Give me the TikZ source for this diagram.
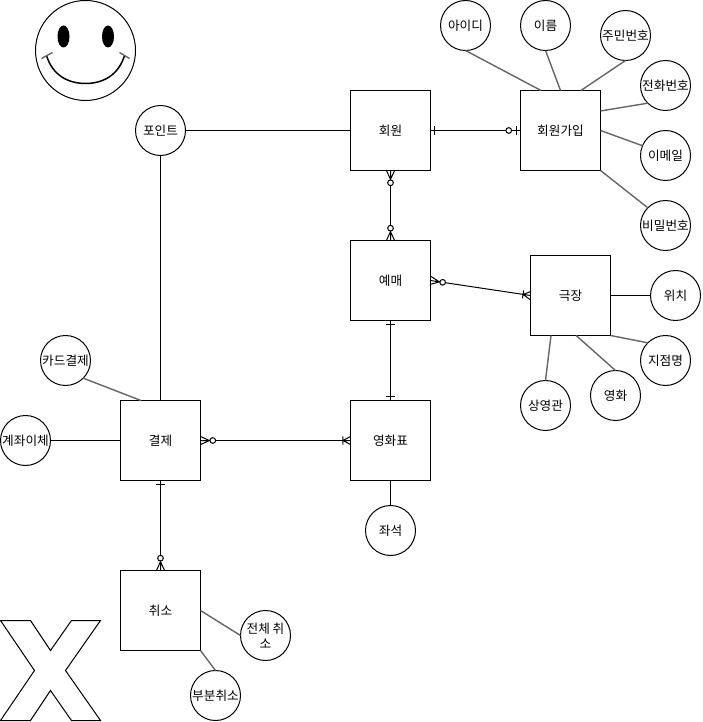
\documentclass[tikz,border=0pt]{standalone}
\usepackage{fontspec}
\setmainfont{Noto Sans CJK KR}
\usetikzlibrary{arrows.meta}

\pgfdeclarearrow{name=ermany,
	setup code={\pgfarrowssettipend{0pt}\pgfarrowssetbackend{-5.1pt}\pgfarrowssetlineend{-5.1pt}},
	drawing code={
		\pgfpathmoveto{\pgfqpoint{0pt}{2.3pt}}\pgfpathlineto{\pgfqpoint{-5.1pt}{0pt}}\pgfpathlineto{\pgfqpoint{0pt}{-2.3pt}}
		\pgfpathmoveto{\pgfqpoint{0pt}{0pt}}\pgfpathlineto{\pgfqpoint{-5.1pt}{0pt}}
		\pgfusepathqstroke}}
\pgfdeclarearrow{name=eronemany,
	setup code={\pgfarrowssettipend{0pt}\pgfarrowssetbackend{-4.3pt}\pgfarrowssetlineend{-4.3pt}},
	drawing code={
		\pgfpathmoveto{\pgfqpoint{0pt}{2.3pt}}\pgfpathlineto{\pgfqpoint{-4.3pt}{0pt}}\pgfpathlineto{\pgfqpoint{0pt}{-2.3pt}}
		\pgfpathmoveto{\pgfqpoint{0pt}{0pt}}\pgfpathlineto{\pgfqpoint{-4.3pt}{0pt}}
		\pgfpathmoveto{\pgfqpoint{-4.3pt}{2.3pt}}\pgfpathlineto{\pgfqpoint{-4.3pt}{-2.3pt}}
		\pgfusepathqstroke}}
\pgfdeclarearrow{name=erone,
	setup code={\pgfarrowssettipend{0pt}\pgfarrowssetbackend{-4.8pt}\pgfarrowssetlineend{-4.8pt}},
	drawing code={
		\pgfpathmoveto{\pgfqpoint{0pt}{0pt}}\pgfpathlineto{\pgfqpoint{-4.8pt}{0pt}}
		\pgfpathmoveto{\pgfqpoint{-2.4pt}{2.3pt}}\pgfpathlineto{\pgfqpoint{-2.4pt}{-2.3pt}}
		\pgfusepathqstroke}}

\tikzset{
	ercircle/.tip={Circle[open,fill=white,length=3.8pt]},
	entity/.style={draw,rectangle,minimum size=1.6cm,inner sep=0pt,outer sep=0pt,line width=0.57pt,font=\fontsize{7.2}{8.8}\selectfont},
	attr/.style={draw,circle,minimum size=1cm,inner sep=0pt,outer sep=0pt,line width=0.57pt,align=center,font=\fontsize{7.2}{8.8}\selectfont},
	erline/.style={line width=0.57pt},
	attrline/.style={line width=0.8pt,draw=black!60},
}

\begin{document}
\begin{tikzpicture}[x=0.02cm,y=-0.02cm]

		\useasboundingbox (-0.5,-0.5) rectangle (701.5,721.5);

		\node[entity] (e1) at (390,130) {회원};
		\node[entity] (e2) at (560,130) {회원가입};
		\node[entity] (e3) at (390,280) {예매};
		\node[entity] (e4) at (570,295) {극장};
		\node[entity] (e5) at (160,440) {결제};
		\node[entity] (e6) at (390,440) {영화표};
		\node[entity] (e7) at (160,610) {취소};

		\node[attr] (a1) at (465,25) {아이디};
		\node[attr] (a2) at (545,25) {이름};
		\node[attr] (a3) at (625,35) {주민번호};
		\node[attr] (a4) at (665,85) {전화번호};
		\node[attr] (a5) at (665,155) {이메일};
		\node[attr] (a6) at (665,225) {비밀번호};

		\node[attr] (a7) at (160,130) {포인트};

		\node[attr] (a8) at (675,295) {위치};
		\node[attr] (a9) at (665,360) {지점명};
		\node[attr] (a10) at (615,395) {영화};
		\node[attr] (a11) at (545,405) {상영관};

		\node[attr] (a12) at (65,360) {카드결제};
		\node[attr] (a13) at (25,440) {계좌이체};
		\node[attr] (a14) at (390,530) {좌석};
		\node[attr] (a15) at (265,635) {전체 취\\소};
		\node[attr] (a16) at (215,695) {부분취소};

		\draw[attrline] (a1.south) to (e2.116.6); \draw[attrline] (a2.south) to (e2.north); \draw[attrline] (a3.south) to (e2.63.4);
		\draw[attrline] (a4.-135) to (e2.26.6); \draw[attrline] (a5.157.5) to (e2.east); \draw[attrline] (a6.135) to (e2.south east);

		\draw[erline] (a7) to (e1.west);
		\draw[erline] (a7) to (e5.north);

		\draw[erline] (a8) to (e4.east);
		\draw[attrline] (a9.135) to (e4.south east);
		\draw[attrline] (a10.north) to (e4.-82.9);
		\draw[attrline] (a11.north) to (e4.-116.6);

		\draw[attrline] (a12.-45) to (e5.116.6);
		\draw[erline] (a13) to (e5.west);
		\draw[erline] (a14) to (e6.south);
		\draw[attrline] (a15.west) to (e7.east);
		\draw[attrline] (a16.north) to (e7.south east);

		\draw[erline,{erone[]}-{ercircle[] erone[]}] (e1.east) to (e2.west);
		\draw[erline,{ermany[] ercircle[]}-{ercircle[] ermany[]}] (e1.south) to (e3.north);
		\draw[erline,{ermany[] ercircle[]}-{eronemany[]}] (e3.east) to (e4.west);
		\draw[erline,{erone[]}-{erone[]}] (e3.south) to (e6.north);
		\draw[erline,{ermany[] ercircle[]}-{eronemany[]}] (e5.east) to (e6.west);
		\draw[erline,{erone[]}-{ercircle[] ermany[]}] (e5.south) to (e7.north);

		% smiley
		\draw[line width=0.57pt] (85,50) circle (50);
		\fill (63,36) ellipse (6 and 11);
		\fill (107.5,36) ellipse (6 and 11);
		\draw[line width=0.85pt] (46,55) .. controls (52,75) and (68,83) .. (85,83) .. controls (102,83) and (118,75) .. (124,55);
		\draw[attrline] (41,58) to (52,52); \draw[attrline] (119,52) to (129,58);

		% cross
		\draw[line width=0.57pt] (0,620) -- (30,620) -- (50,650) -- (71,620) -- (100,620) -- (65,670) -- (100,720) -- (71,720) -- (50,690) -- (30,720) -- (0,720) -- (34,670) -- cycle;

	\end{tikzpicture}
\end{document}
